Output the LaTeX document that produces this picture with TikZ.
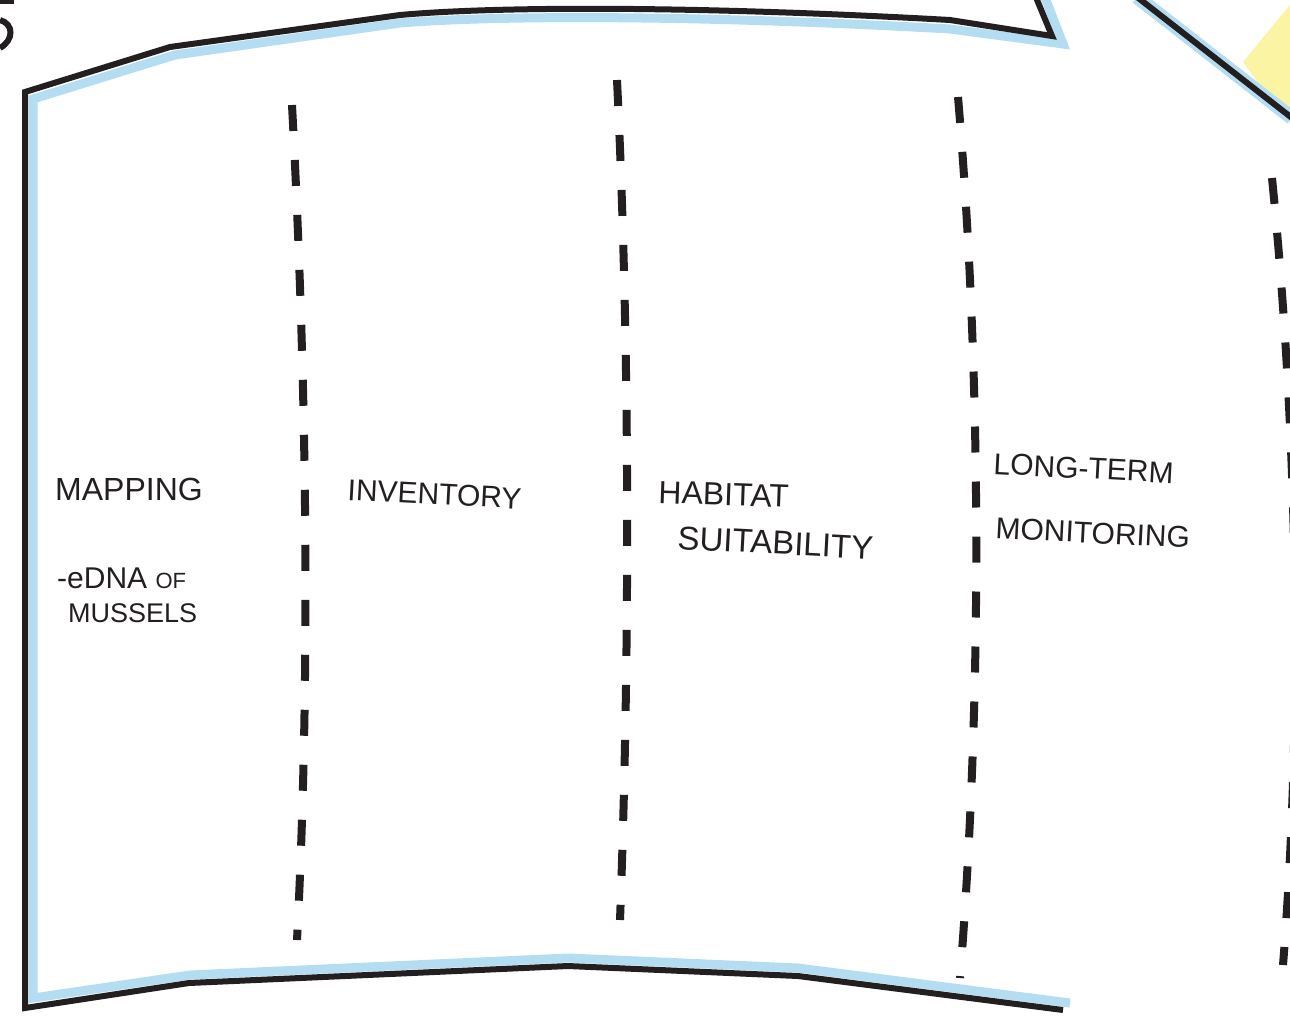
\documentclass[tikz,border=0pt]{standalone}
\usepackage{fontspec}
\setmainfont{Liberation Sans}
\usetikzlibrary{positioning}
\definecolor{pencil}{HTML}{231F20}
\definecolor{skyshade}{HTML}{B4DDF2}
\definecolor{marker}{HTML}{FBF4A2}
\tikzset{
  outline/.style={line width=6pt, draw=pencil, line join=miter},
  shadow/.style={line width=9pt, draw=skyshade},
  divider/.style={line width=8pt, draw=pencil, dash pattern=on 26pt off 29pt},
  scrawl/.style={anchor=base west, inner sep=0pt, text=pencil, font=\fontsize{32}{38}\selectfont},
}

\begin{document}
\begin{tikzpicture}[x=1pt,y=-1pt]
        \useasboundingbox (0,0) rectangle (1290,1015);
        \begin{scope}
        \clip (0,0) rectangle (1290,1015);
        % note peeking in at the corner
        \fill[marker] (1243,62) -- (1290,5) -- (1290,110) -- (1262,88) -- cycle;
        \draw[shadow, line width=14pt] (1137,-3) -- (1292,118);
        \draw[outline] (1137,-3) -- (1292,118);
        % sheet
        \draw[shadow] (1044,-5) -- (1063,44) -- (950,29) .. controls (700,15) and (500,15) .. (400,23) -- (175,55) -- (33,99) -- (33,998) -- (190,975) -- (568,958) -- (798,968) -- (1070,1003);
        \draw[outline] (1035,-5) -- (1052,36) -- (950,20) .. controls (700,6) and (500,6) .. (400,15) -- (170,47) -- (25,92) -- (25,1008) -- (189,983) -- (568,966) -- (798,976) -- (1063,1010);
        % cut-off figure
        \draw[outline] (0,20) .. controls (14,24) and (14,40) .. (0,48);
        \draw[outline, line width=4pt] (0,2) -- (14,2);
        % columns
        \draw[divider] (292,105) .. controls (305,350) and (312,650) .. (297,940);
        \draw[divider] (617,80) .. controls (630,350) and (630,650) .. (620,920);
        \draw[divider] (958,97) .. controls (982,380) and (982,700) .. (960,978);
        \draw[divider] (1272,178) .. controls (1296,420) and (1304,700) .. (1283,965);
        \end{scope}
        \node[scrawl] (mapping) at (55,500) {MAPPING};
        \node[scrawl, font=\fontsize{30}{36}\selectfont] (edna) at (57,588) {-eDNA {\fontsize{22}{26}\selectfont OF}};
        \node[scrawl, font=\fontsize{27}{32}\selectfont] (mussels) at (68,622) {MUSSELS};
        \node[scrawl, rotate=-3, font=\fontsize{30}{36}\selectfont] (inventory) at (347,500) {INVENTORY};
        \node[scrawl, rotate=-2] (habitat) at (658,503) {HABITAT};
        \node[scrawl, rotate=-3, font=\fontsize{33}{38}\selectfont] (suitability) at (677,549) {SUITABILITY};
        \node[scrawl, rotate=-3, font=\fontsize{30}{36}\selectfont] (longterm) at (993,474) {LONG-TERM};
        \node[scrawl, rotate=-3, font=\fontsize{30}{36}\selectfont] (monitoring) at (995,538) {MONITORING};
\end{tikzpicture}
\end{document}
